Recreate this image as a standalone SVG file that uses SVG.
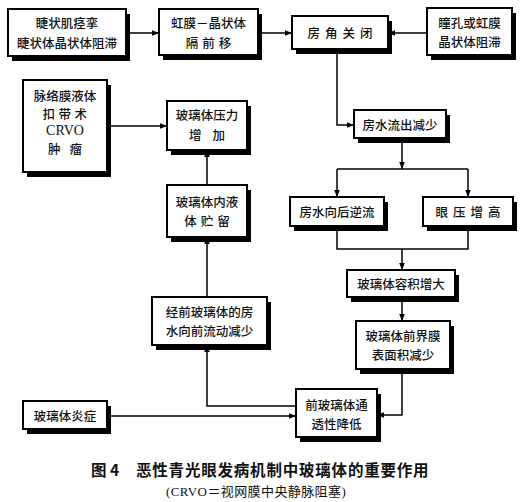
<svg xmlns="http://www.w3.org/2000/svg" width="522" height="502" viewBox="0 0 522 502">
<defs>
<style>
.sh{fill:#000}
.bx{fill:#fff;stroke:#000;stroke-width:2}
.t{font-family:"Noto Sans CJK SC","Noto Sans",sans-serif;font-size:12.5px;font-weight:500;fill:#111;text-anchor:middle;dominant-baseline:central}
.lt{font-family:"Liberation Serif",serif;font-size:14px;fill:#111;text-anchor:middle;dominant-baseline:central}
.c{fill:none;stroke:#000;stroke-width:1.5}
.cap{font-family:"Noto Sans CJK SC",sans-serif;font-weight:bold;font-size:15.5px;fill:#111}
.cap2{font-family:"Liberation Serif","Noto Sans CJK SC",serif;font-size:13px;fill:#111}
</style>
<marker id="ah" viewBox="0 0 10 10" refX="10" refY="5" markerWidth="7" markerHeight="7" markerUnits="userSpaceOnUse" orient="auto">
<path d="M0,1 L10,5 L0,9 Z" fill="#000"/>
</marker>
</defs>
<rect width="522" height="502" fill="#fff"/>

<g id="connectors">
<path class="c" d="M126,33 H159" marker-end="url(#ah)"/>
<path class="c" d="M258,33 H292" marker-end="url(#ah)"/>
<path class="c" d="M427,33 H388" marker-end="url(#ah)"/>
<path class="c" d="M337,49 V125 H354" marker-end="url(#ah)"/>
<path class="c" d="M402,138 V169" marker-end="url(#ah)"/>
<path class="c" d="M337,169 H468"/>
<path class="c" d="M337,169 V197" marker-end="url(#ah)"/>
<path class="c" d="M468,169 V197" marker-end="url(#ah)"/>
<path class="c" d="M337,226 V249 H468 V226"/>
<path class="c" d="M402,249 V270" marker-end="url(#ah)"/>
<path class="c" d="M402,297 V321" marker-end="url(#ah)"/>
<path class="c" d="M402,369 V415 H377" marker-end="url(#ah)"/>
<path class="c" d="M107,416 H296" marker-end="url(#ah)"/>
<path class="c" d="M296,406 H207 V345" marker-end="url(#ah)"/>
<path class="c" d="M207,297 V237" marker-end="url(#ah)"/>
<path class="c" d="M207,185 V150" marker-end="url(#ah)"/>
<path class="c" d="M107,126 H167" marker-end="url(#ah)"/>
</g>

<g id="n1">
<rect class="sh" x="12" y="14" width="118" height="47"/>
<rect class="bx" x="8" y="9" width="118" height="47"/>
<text class="t" x="67" y="22">睫状肌痉挛</text>
<text class="t" x="67" y="42">睫状体晶状体阻滞</text>
</g>
<g id="n2">
<rect class="sh" x="163" y="14" width="99" height="46"/>
<rect class="bx" x="159" y="9" width="99" height="46"/>
<text class="t" x="208.5" y="22">虹膜－晶状体</text>
<text class="t" x="210.5" y="42" letter-spacing="4">隔前移</text>
</g>
<g id="n3">
<rect class="sh" x="296" y="21" width="96" height="33"/>
<rect class="bx" x="292" y="16" width="96" height="33"/>
<text class="t" x="342.5" y="32.5" letter-spacing="5">房角关闭</text>
</g>
<g id="n4">
<rect class="sh" x="431" y="13" width="85" height="47"/>
<rect class="bx" x="427" y="8" width="85" height="47"/>
<text class="t" x="469.5" y="22">瞳孔或虹膜</text>
<text class="t" x="469.5" y="41">晶状体阻滞</text>
</g>
<g id="n5">
<rect class="sh" x="358" y="115" width="92" height="28"/>
<rect class="bx" x="354" y="110" width="92" height="28"/>
<text class="t" x="400" y="124">房水流出减少</text>
</g>
<g id="n6">
<rect class="sh" x="27" y="85" width="84" height="92"/>
<rect class="bx" x="23" y="80" width="84" height="92"/>
<text class="t" x="65" y="95">脉络膜液体</text>
<text class="t" x="66.5" y="113" letter-spacing="3.5">扣带术</text>
<text class="lt" x="65" y="130">CRVO</text>
<text class="t" x="69.5" y="148" letter-spacing="9">肿瘤</text>
</g>
<g id="n7">
<rect class="sh" x="171" y="106" width="80" height="49"/>
<rect class="bx" x="167" y="101" width="80" height="49"/>
<text class="t" x="207" y="114">玻璃体压力</text>
<text class="t" x="212.5" y="134" letter-spacing="11">增加</text>
</g>
<g id="n8">
<rect class="sh" x="171" y="190" width="80" height="52"/>
<rect class="bx" x="167" y="185" width="80" height="52"/>
<text class="t" x="207" y="201">玻璃体内液</text>
<text class="t" x="209" y="220" letter-spacing="4">体贮留</text>
</g>
<g id="n9">
<rect class="sh" x="156" y="302" width="115" height="48"/>
<rect class="bx" x="152" y="297" width="115" height="48"/>
<text class="t" x="209.5" y="311">经前玻璃体的房</text>
<text class="t" x="209.5" y="330">水向前流动减少</text>
</g>
<g id="n10">
<rect class="sh" x="27" y="406" width="84" height="28"/>
<rect class="bx" x="23" y="401" width="84" height="28"/>
<text class="t" x="65" y="415">玻璃体炎症</text>
</g>
<g id="n11">
<rect class="sh" x="300" y="394" width="81" height="48"/>
<rect class="bx" x="296" y="389" width="81" height="48"/>
<text class="t" x="336.5" y="404">前玻璃体通</text>
<text class="t" x="336.5" y="423">透性降低</text>
</g>
<g id="n12">
<rect class="sh" x="360" y="326" width="94" height="48"/>
<rect class="bx" x="356" y="321" width="94" height="48"/>
<text class="t" x="403" y="335">玻璃体前界膜</text>
<text class="t" x="403" y="354">表面积减少</text>
</g>
<g id="n13">
<rect class="sh" x="351" y="275" width="108" height="27"/>
<rect class="bx" x="347" y="270" width="108" height="27"/>
<text class="t" x="401" y="283.5">玻璃体容积增大</text>
</g>
<g id="n14">
<rect class="sh" x="294" y="202" width="94" height="29"/>
<rect class="bx" x="290" y="197" width="94" height="29"/>
<text class="t" x="337" y="211.5">房水向后逆流</text>
</g>
<g id="n15">
<rect class="sh" x="427" y="202" width="90" height="29"/>
<rect class="bx" x="423" y="197" width="90" height="29"/>
<text class="t" x="470.5" y="211.5" letter-spacing="5">眼压增高</text>
</g>

<g id="caption">
<text class="cap" x="91" y="476">图 4</text>
<text class="cap" x="136" y="476" letter-spacing="0.8">恶性青光眼发病机制中玻璃体的重要作用</text>
<text class="cap2" x="166" y="496" letter-spacing="0.4">(CRVO＝视网膜中央静脉阻塞)</text>
</g>
</svg>
